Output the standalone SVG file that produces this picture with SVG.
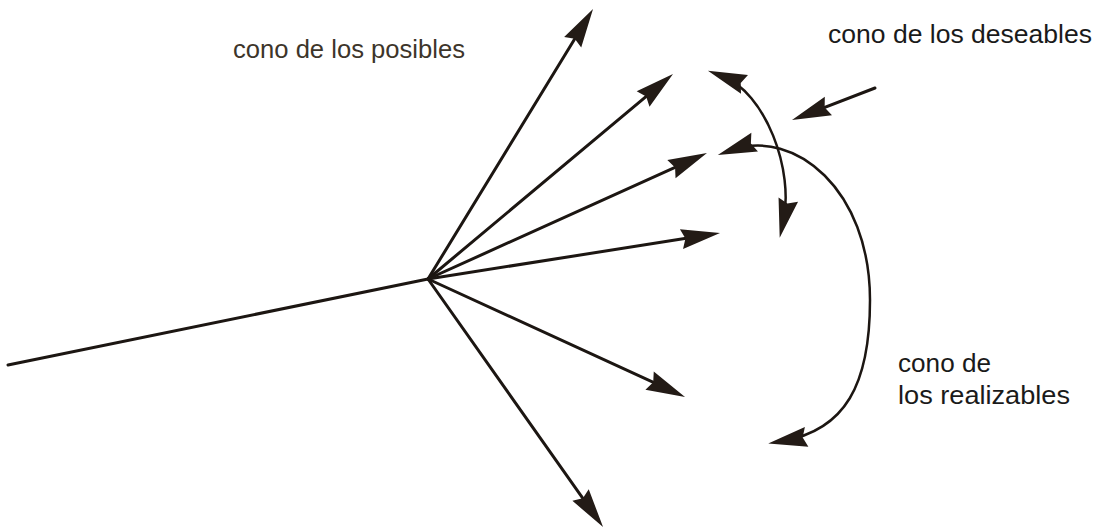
<svg xmlns="http://www.w3.org/2000/svg" width="1101" height="529" viewBox="0 0 1101 529">
<defs>
<style>
.ln{fill:none;stroke:#1c1612;stroke-width:3;stroke-linecap:round}
.cv{fill:none;stroke:#1c1612;stroke-width:2.5;stroke-linecap:round}
.lbl{font-family:"Liberation Sans",Arial,sans-serif;font-size:26px;fill:#1a1a1a}
.pos{fill:#3d352a}
</style>
<marker id="ah" viewBox="-28 -12 45 24" markerWidth="45" markerHeight="24" refX="0" refY="0" orient="auto-start-reverse" markerUnits="userSpaceOnUse" overflow="visible">
<path d="M15,0 L-24,-10 L-20,0 L-24,10 Z" fill="#231b16"/>
</marker>
</defs>
<rect width="1101" height="529" fill="#ffffff"/>
<g id="connectors">
<line class="ln" x1="8" y1="365" x2="428" y2="279"/>
<line class="ln" x1="428" y1="279" x2="585.2" y2="21.8" marker-end="url(#ah)"/>
<line class="ln" x1="428" y1="279" x2="661.5" y2="83.6" marker-end="url(#ah)"/>
<line class="ln" x1="428" y1="279" x2="693.3" y2="159.2" marker-end="url(#ah)"/>
<line class="ln" x1="428" y1="279" x2="705.2" y2="235.3" marker-end="url(#ah)"/>
<line class="ln" x1="428" y1="279" x2="671.4" y2="390.7" marker-end="url(#ah)"/>
<line class="ln" x1="428" y1="279" x2="594.4" y2="514.7" marker-end="url(#ah)"/>
<path class="cv" d="M722,76 C765,92 795,170 783,223" marker-start="url(#ah)" marker-end="url(#ah)"/>
<path class="cv" d="M732,150 C795,128 870,190 870,300 C870,385 845,430 783,441" marker-start="url(#ah)" marker-end="url(#ah)"/>
<line class="ln" x1="875" y1="88" x2="806" y2="114.6" marker-end="url(#ah)"/>
</g>
<g id="label-posibles">
<text class="lbl pos" x="233" y="58" textLength="232" lengthAdjust="spacingAndGlyphs">cono de los posibles</text>
</g>
<g id="label-deseables">
<text class="lbl" x="828" y="43" textLength="264" lengthAdjust="spacingAndGlyphs">cono de los deseables</text>
</g>
<g id="label-realizables">
<text class="lbl" x="898" y="372" textLength="93" lengthAdjust="spacingAndGlyphs">cono de</text>
<text class="lbl" x="898" y="404" textLength="172" lengthAdjust="spacingAndGlyphs">los realizables</text>
</g>
</svg>
